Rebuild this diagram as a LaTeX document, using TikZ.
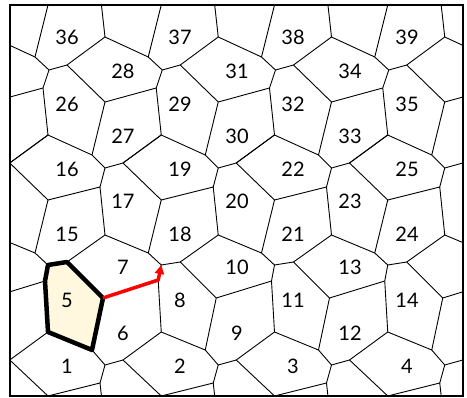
\documentclass[tikz,border=0pt]{standalone}
\usepackage{fontspec}
\setmainfont{Lato}
\usetikzlibrary{arrows.meta}
\definecolor{cream}{RGB}{255,247,222}
\tikzset{
  edge/.style={line width=0.9pt, black, line join=round},
  frame/.style={line width=2pt, black},
  hilite/.style={line width=4.5pt, black, line join=round, fill=cream},
  redarrow/.style={line width=3.5pt, red, line join=round, -{Triangle[length=9pt,width=9pt]}},
  lbl/.style={font=\fontsize{20}{20}\selectfont, inner sep=0pt}
}
\begin{document}
\begin{tikzpicture}[x=1pt,y=-1pt]
\useasboundingbox (0,0) rectangle (467,398);
\def\PX{113.25}
\def\PY{391}
% vertices of one period (plain coordinates, so that scope shifts apply)
\def\aA{35,57}   \def\aB{49,70}   \def\aC{67,65}
\def\aD{105,37}  \def\aE{43,88}   \def\aF{105,102}
\def\bA{48,135}  \def\bB{92,155}  \def\bC{105,168}
\def\bD{123,163} \def\bF{100,187} \def\bG{48,200}
\def\cA{105,235} \def\cB{35,253}  \def\cD{67,262}
\def\cE{48,265}  \def\cF{103,298} \def\cG{92,350}
\def\cH{48,332}  \def\cI{45,281}
\def\dA{105,365} \def\dB{123,360} \def\dC{100,383}
\def\eA{48,396}
\begin{scope}
\clip (10,5) rectangle (463.25,396);
\foreach \i in {-1,0,1,2,3,4}{
  \foreach \j in {-1,0,1}{
    \begin{scope}[shift={(\i*\PX,\j*\PY)}]
      \draw[edge] ([yshift=\PY pt]\eA) -- (\aA) -- (\aB) -- (\aC) -- (\aD) -- ([yshift=\PY pt]\dC);
      \draw[edge] (\aA) -- ([xshift=-\PX pt]\aD);
      \draw[edge] (\aB) -- (\aE) -- (\bA) -- (\bB) -- (\bC) -- (\bD) -- ([xshift=\PX pt]\bG);
      \draw[edge] (\aE) -- ([xshift=-\PX pt]\aF);
      \draw[edge] (\aC) -- (\aF) -- (\bB);
      \draw[edge] (\bA) -- ([xshift=-\PX pt]\bD);
      \draw[edge] (\bC) -- (\bF) -- (\bG) -- (\cB) -- (\cE) -- (\cD) -- (\cA) -- (\bF);
      \draw[edge] (\bD) -- ([xshift=\PX pt]\bA);
      \draw[edge] (\cA) -- ([xshift=\PX pt]\cB);
      \draw[edge] (\cD) -- (\cF) -- (\cG) -- (\cH) -- (\cI) -- (\cE);
      \draw[edge] (\cF) -- ([xshift=\PX pt]\cI);
      \draw[edge] (\cG) -- (\dA) -- (\dB) -- ([xshift=\PX pt]\cH);
      \draw[edge] (\dB) -- ([xshift=\PX pt]\eA);
      \draw[edge] (\dA) -- (\dC) -- (\eA);
    \end{scope}
  }
}
\end{scope}
% highlighted cell 5
\draw[hilite] (\cE) -- (\cD) -- (\cF) -- (\cG) -- (\cH) -- (\cI) -- cycle;
% red arrow along the boundary of cell 7
\coordinate (r0) at (\cF);
\coordinate (r1) at ([xshift=\PX pt, yshift=1pt]\cI);
\coordinate (r2) at ([xshift=\PX pt]\cE);
\draw[redarrow] (r0) -- (r1) -- (r2);
% frame
\draw[frame] (10,5) rectangle (463.25,396);
% labels
\foreach \n/\x/\y in {36/67/37,37/180/37,38/293/37,39/407/37,
  28/123/71,31/237/71,34/350/71,
  26/67/104,29/180/104,32/293/104,35/407/104,
  27/123/136,30/237/136,33/350/136,
  16/67/169,19/180/169,22/293/169,25/407/169,
  17/123/201,20/237/201,23/350/201,
  15/67/234,18/180/234,21/293/234,24/407/234,
  7/123/267,10/237/267,13/350/267,
  5/67/300,8/180/300,11/293/300,14/407/300,
  6/123/333,9/237/333,12/350/333,
  1/67/366,2/180/366,3/293/366,4/407/366}{
  \node[lbl] (n\n) at (\x,\y) {\n};
}
\end{tikzpicture}
\end{document}
